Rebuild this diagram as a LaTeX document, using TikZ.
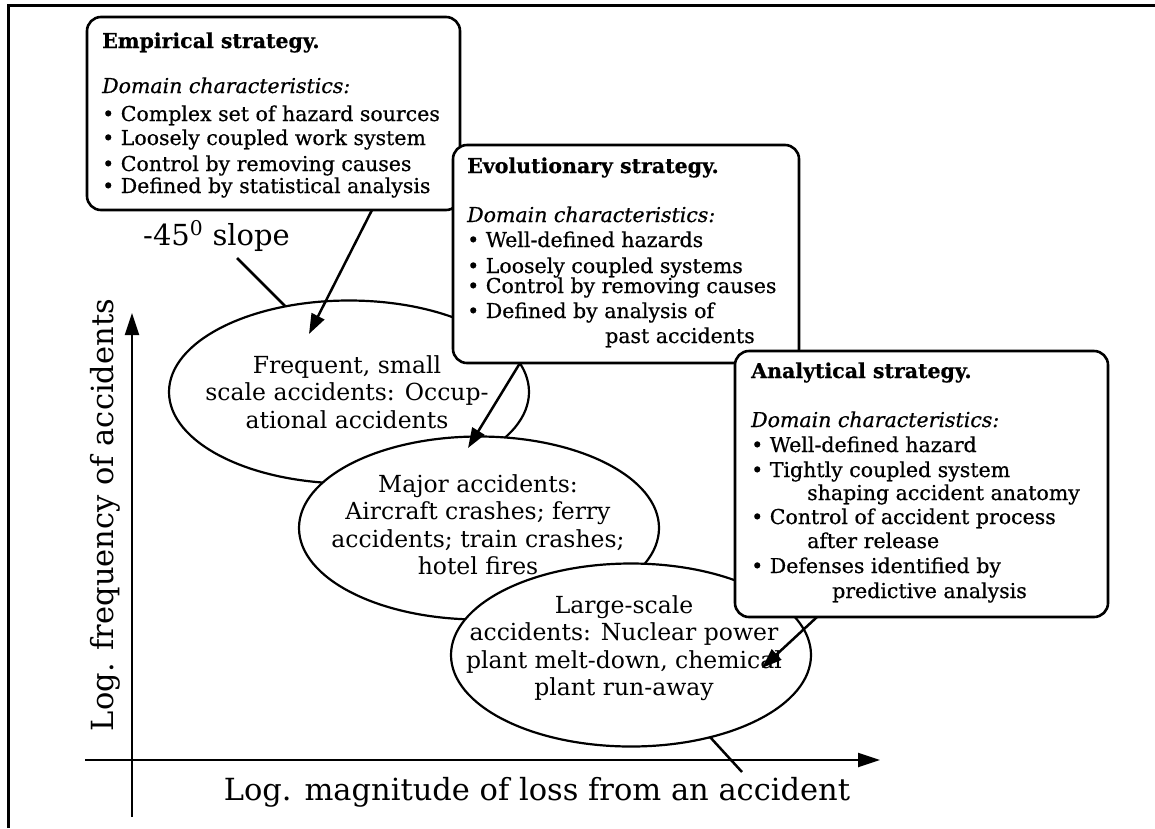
\documentclass[tikz,border=0pt]{standalone}
\usepackage{fontspec}
\setmainfont{DejaVu Serif}
\newfontfamily\boxfont[FakeBold=0.6]{DejaVu Serif}
\usetikzlibrary{shapes.geometric,arrows.meta}
\begin{document}
\begin{tikzpicture}[x=1pt,y=-1pt,
  frameline/.style={line width=3pt},
  ell/.style={draw, ellipse, fill=white, line width=2.2pt, minimum width=360pt, minimum height=183pt, inner sep=0pt},
  etext/.style={anchor=base, inner sep=0pt, font=\fontsize{23.5}{27.5}\selectfont},
  sbox/.style={draw, fill=white, rounded corners=14pt, line width=2.6pt, inner sep=0pt},
  btext/.style={anchor=base west, inner sep=0pt, font=\boxfont\fontsize{20.5}{24}\selectfont},
  pointer/.style={line width=2.5pt, -{Triangle[length=20pt,width=14pt]}},
  plainline/.style={line width=2.5pt},
  axis/.style={line width=2.2pt, -{Triangle[length=22pt,width=14pt]}},
  axlabel/.style={inner sep=0pt, font=\fontsize{30.5}{36}\selectfont},
]
\useasboundingbox (0,0) rectangle (1155,828);
\fill[white] (0,0) rectangle (1155,828);

% frame
\coordinate (fbl) at (8,828);
\coordinate (ftl) at (8,5);
\coordinate (ftr) at (1155,5);
\draw[frameline] (fbl) -- (ftl) -- (ftr);

% axes
\coordinate (yb) at (132,817);
\coordinate (yt) at (132,313);
\coordinate (xl) at (85,760);
\coordinate (xr) at (880,760);
\draw[axis] (yb) -- (yt);
\draw[axis] (xl) -- (xr);
\node[axlabel, rotate=90, anchor=base] (ylab) at (113,515) {Log. frequency of accidents};
\node[axlabel, anchor=base] (xlab) at (537,800) {Log. magnitude of loss from an accident};

% ellipses
\node[ell] (e1) at (349,392) {};
\node[etext] (t1) at (347,373) {\begin{tabular}[t]{@{}c@{}}Frequent, small\\ scale accidents: Occup-\\ ational accidents\end{tabular}};
\node[ell] (e2) at (479,528) {};
\node[etext] (t2) at (478,492) {\begin{tabular}[t]{@{}c@{}}Major accidents:\\ Aircraft crashes; ferry\\ accidents; train crashes;\\ hotel fires\end{tabular}};
\node[ell] (e3) at (631,655) {};
\node[etext] (t3) at (624,613) {\begin{tabular}[t]{@{}c@{}}Large-scale\\ accidents: Nuclear power\\ plant melt-down, chemical\\ plant run-away\end{tabular}};

% strategy boxes
\node[sbox, minimum width=373pt, minimum height=193pt] (emp) at (273.5,113.5) {};
\node[btext] (emptext) at (102,48) {\begin{tabular}[t]{@{}l@{}}
\textbf{Empirical strategy.}\\[21pt]
\textit{Domain characteristics:}\\[4pt]
• Complex set of hazard sources\\
• Loosely coupled work system\\[2pt]
• Control by removing causes\\[-2pt]
• Defined by statistical analysis
\end{tabular}};

\node[sbox, minimum width=346pt, minimum height=218pt] (evo) at (626,254) {};
\node[btext] (evotext) at (467,173) {\begin{tabular}[t]{@{}l@{}}
\textbf{Evolutionary strategy.}\\[25pt]
\textit{Domain characteristics:}\\[1pt]
• Well-defined hazards\\[2pt]
• Loosely coupled systems\\[-4pt]
• Control by removing causes\\[1pt]
• Defined by analysis of\\[1pt]
\hspace{138pt}past accidents
\end{tabular}};

\node[sbox, minimum width=373pt, minimum height=266pt] (ana) at (921.5,484) {};
\node[btext] (anatext) at (751,378) {\begin{tabular}[t]{@{}l@{}}
\textbf{Analytical strategy.}\\[25pt]
\textit{Domain characteristics:}\\[1pt]
• Well-defined hazard\\[1pt]
• Tightly coupled system\\[-1pt]
\hspace{56pt}shaping accident anatomy\\
• Control of accident process\\
\hspace{56pt}after release\\[1pt]
• Defenses identified by\\[1pt]
\hspace{81pt}predictive analysis
\end{tabular}};

% slope label
\node[inner sep=0pt, anchor=base west, font=\fontsize{29}{34}\selectfont] (slope) at (143,245) {-45\textsuperscript{0} slope};

% connectors
\coordinate (s1a) at (237,258);
\coordinate (s1b) at (285,306);
\draw[plainline] (s1a) -- (s1b);

\coordinate (a1s) at (372,210);
\coordinate (a1e) at (309,334);
\draw[pointer] (a1s) -- (a1e);

\coordinate (a3s) at (520,363);
\coordinate (a3e) at (468,448);
\draw[pointer] (a3s) -- (a3e);

\coordinate (a4s) at (817,617);
\coordinate (a4e) at (762,668);
\draw[pointer] (a4s) -- (a4e);

\coordinate (s2a) at (710,737);
\coordinate (s2b) at (742,772);
\draw[plainline] (s2a) -- (s2b);
\end{tikzpicture}
\end{document}
